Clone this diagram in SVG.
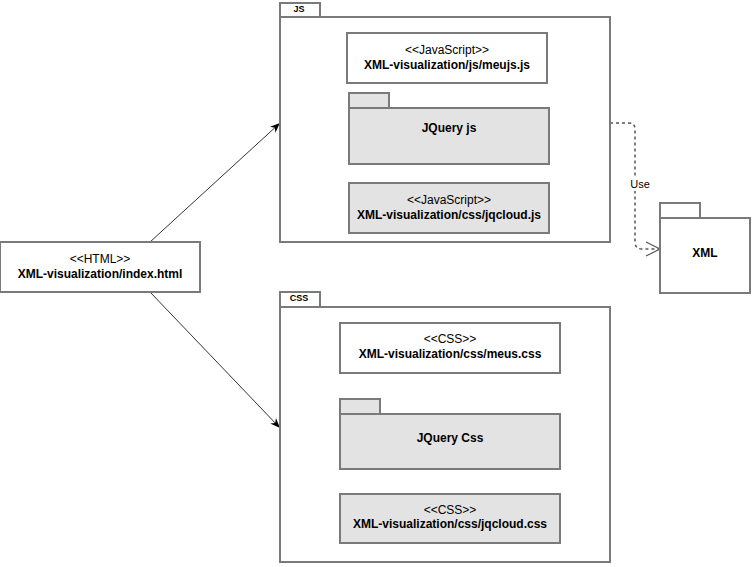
<svg xmlns="http://www.w3.org/2000/svg" width="752" height="567" viewBox="0 0 752 567">
<defs>
<style>
.b{fill:#fff;stroke:#7a7a7a;stroke-width:2}
.g{fill:#e3e3e3;stroke:#7a7a7a;stroke-width:2}
.t{font-family:"Liberation Sans",Arial,sans-serif;font-size:12px;text-anchor:middle;fill:#000}
.tb{font-family:"Liberation Sans",Arial,sans-serif;font-size:12px;font-weight:bold;text-anchor:middle;fill:#000}
.tab{font-family:"Liberation Sans",Arial,sans-serif;font-size:9px;font-weight:bold;text-anchor:middle;fill:#000}
</style>
<marker id="fa" viewBox="0 0 10 10" refX="10" refY="5" markerWidth="10" markerHeight="10" markerUnits="userSpaceOnUse" orient="auto">
<path d="M0,1 L10,5 L0,9 L3,5 Z" fill="#000"/>
</marker>
</defs>
<rect width="752" height="567" fill="#fff"/>

<g id="connectors">
<line x1="150" y1="242" x2="280" y2="123" stroke="#333" stroke-width="1" marker-end="url(#fa)"/>
<line x1="150" y1="292" x2="280" y2="428" stroke="#333" stroke-width="1" marker-end="url(#fa)"/>
<path d="M610,123 L629,123 Q635,123 635,129 L635,242 Q635,249 642,249 L660,249" fill="none" stroke="#555" stroke-width="1.5" stroke-dasharray="3,3"/>
<path d="M646,242 L660,249 L646,256" fill="none" stroke="#555" stroke-width="1.2"/>
<rect x="623" y="178" width="34" height="13" fill="#fff"/>
<text class="t" x="640" y="188" style="font-size:11px">Use</text>
</g>

<g id="html">
<rect class="b" x="0" y="242" width="200" height="50"/>
<text class="t" x="100" y="263">&lt;&lt;HTML&gt;&gt;</text>
<text class="tb" x="100" y="278">XML-visualization/index.html</text>
</g>

<g id="js">
<rect class="b" x="280" y="3" width="40" height="14"/>
<text class="tab" x="299" y="12">JS</text>
<rect class="b" x="280" y="17" width="330" height="225"/>
</g>
<g id="meujs">
<rect class="b" x="347" y="33" width="200" height="50"/>
<text class="t" x="447" y="54">&lt;&lt;JavaScript&gt;&gt;</text>
<text class="tb" x="447" y="69">XML-visualization/js/meujs.js</text>
</g>
<g id="jqueryjs">
<rect class="g" x="349" y="93" width="40" height="15"/>
<rect class="g" x="349" y="108" width="200" height="56"/>
<text class="tb" x="449" y="132">JQuery js</text>
</g>
<g id="jqcloudjs">
<rect class="g" x="349" y="183" width="200" height="50"/>
<text class="t" x="449" y="204">&lt;&lt;JavaScript&gt;&gt;</text>
<text class="tb" x="449" y="219">XML-visualization/css/jqcloud.js</text>
</g>

<g id="css">
<rect class="b" x="280" y="292" width="40" height="15"/>
<text class="tab" x="299" y="301">CSS</text>
<rect class="b" x="280" y="307" width="330" height="255"/>
</g>
<g id="meuscss">
<rect class="b" x="340" y="323" width="220" height="50"/>
<text class="t" x="450" y="343">&lt;&lt;CSS&gt;&gt;</text>
<text class="tb" x="450" y="358">XML-visualization/css/meus.css</text>
</g>
<g id="jquerycss">
<rect class="g" x="340" y="399" width="40" height="15"/>
<rect class="g" x="340" y="414" width="220" height="55"/>
<text class="tb" x="450" y="442">JQuery Css</text>
</g>
<g id="jqcloudcss">
<rect class="g" x="340" y="494" width="220" height="49"/>
<text class="t" x="450" y="514">&lt;&lt;CSS&gt;&gt;</text>
<text class="tb" x="450" y="528">XML-visualization/css/jqcloud.css</text>
</g>

<g id="xml">
<rect class="b" x="660" y="203" width="40" height="15"/>
<rect class="b" x="660" y="218" width="90" height="75"/>
<text class="tb" x="705" y="257">XML</text>
</g>
</svg>
